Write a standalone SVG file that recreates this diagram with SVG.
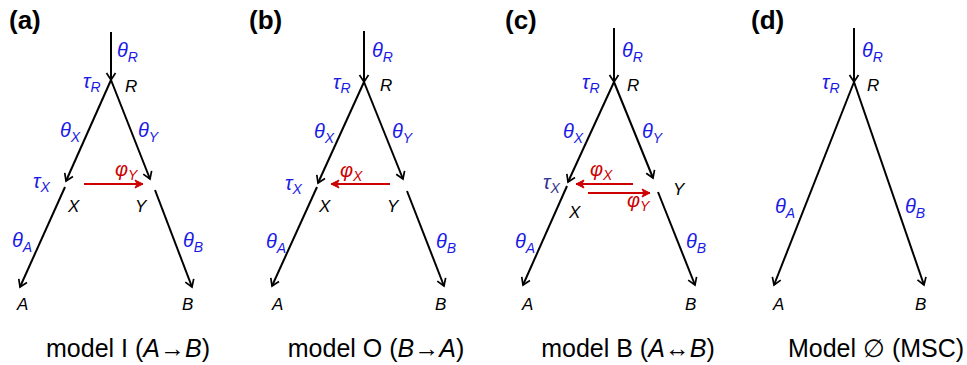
<svg xmlns="http://www.w3.org/2000/svg" width="967" height="365" viewBox="0 0 967 365">
<defs>
<marker id="ah" viewBox="-9 -6 11 12" refX="0" refY="0" markerWidth="11" markerHeight="12" orient="auto" markerUnits="userSpaceOnUse">
<path d="M-7,-4.5 L0,0 L-7,4.5" fill="none" stroke="#000" stroke-width="1.7" stroke-linejoin="miter"/>
</marker>
<marker id="ahr" viewBox="-10 -6 12 12" refX="0" refY="0" markerWidth="12" markerHeight="12" orient="auto" markerUnits="userSpaceOnUse">
<path d="M-8,-4 L0,0 L-8,4 L-6,0 Z" fill="#cc0000" stroke="#cc0000" stroke-width="1"/>
</marker>
</defs>
<style>
.br{stroke:#000;stroke-width:2;fill:none;marker-end:url(#ah)}
.mg{stroke:#cc0000;stroke-width:2;fill:none;marker-end:url(#ahr)}
.g{font-family:"Liberation Sans",Arial,sans-serif;font-style:italic;font-size:20px;fill:#1a1ae6}
.gr{font-family:"Liberation Sans",Arial,sans-serif;font-style:italic;font-size:20px;fill:#cc0000}
.gn{font-family:"Liberation Sans",Arial,sans-serif;font-style:italic;font-size:20px;fill:#33338a}
.sub{font-size:14px}
.n{font-family:"Liberation Sans",Arial,sans-serif;font-style:italic;font-size:17px;fill:#000}
.cap{font-family:"Liberation Sans",Arial,sans-serif;font-size:25px;fill:#000;text-anchor:middle}
.pl{font-family:"Liberation Sans",Arial,sans-serif;font-weight:bold;font-size:26px;fill:#000}
</style>

<!-- Panel (a) -->
<g id="panel-a">
<text class="pl" x="9" y="29">(a)</text>
<g id="a-connectors">
<line class="br" x1="111" y1="32" x2="111" y2="80"/>
<line class="br" x1="111" y1="80" x2="66" y2="181"/>
<line class="br" x1="111" y1="80" x2="150" y2="179"/>
<line class="br" x1="65" y1="187" x2="20" y2="287"/>
<line class="br" x1="155" y1="190" x2="192" y2="287"/>
<line class="mg" x1="84" y1="184" x2="143" y2="184"/>
</g>
<g id="a-R"><text class="n" x="125" y="92">R</text><text class="g" x="83" y="88">τ<tspan class="sub" dy="4">R</tspan></text></g>
<text class="g" x="117" y="57">θ<tspan class="sub" dy="5">R</tspan></text>
<text class="g" x="60" y="137">θ<tspan class="sub" dy="5">X</tspan></text>
<text class="g" x="138" y="137">θ<tspan class="sub" dy="5">Y</tspan></text>
<text class="gr" x="115" y="176">φ<tspan class="sub" dy="4">Y</tspan></text>
<g id="a-X"><text class="g" x="33" y="188">τ<tspan class="sub" dy="4">X</tspan></text><text class="n" x="68" y="212">X</text></g>
<g id="a-Y"><text class="n" x="135" y="212">Y</text></g>
<text class="g" x="12" y="247">θ<tspan class="sub" dy="5">A</tspan></text>
<text class="g" x="183" y="247">θ<tspan class="sub" dy="5">B</tspan></text>
<g id="a-A"><text class="n" x="17" y="310">A</text></g>
<g id="a-B"><text class="n" x="182" y="310">B</text></g>
<text class="cap" x="128" y="357">model I (<tspan font-style="italic">A</tspan>→<tspan font-style="italic">B</tspan>)</text>
</g>

<!-- Panel (b) -->
<g id="panel-b">
<text class="pl" x="249" y="29">(b)</text>
<g id="b-connectors">
<line class="br" x1="364" y1="31" x2="364" y2="82"/>
<line class="br" x1="364" y1="82" x2="318" y2="183"/>
<line class="br" x1="364" y1="82" x2="403" y2="179"/>
<line class="br" x1="317" y1="187" x2="272" y2="286"/>
<line class="br" x1="407" y1="191" x2="444" y2="286"/>
<line class="mg" x1="390" y1="184" x2="331" y2="184"/>
</g>
<g id="b-R"><text class="n" x="380" y="91">R</text><text class="g" x="333" y="89">τ<tspan class="sub" dy="4">R</tspan></text></g>
<text class="g" x="372" y="57">θ<tspan class="sub" dy="5">R</tspan></text>
<text class="g" x="314" y="138">θ<tspan class="sub" dy="5">X</tspan></text>
<text class="g" x="392" y="138">θ<tspan class="sub" dy="5">Y</tspan></text>
<text class="gr" x="340" y="177">φ<tspan class="sub" dy="4">X</tspan></text>
<g id="b-X"><text class="g" x="285" y="190">τ<tspan class="sub" dy="4">X</tspan></text><text class="n" x="319" y="212">X</text></g>
<g id="b-Y"><text class="n" x="387" y="212">Y</text></g>
<text class="g" x="266" y="248">θ<tspan class="sub" dy="5">A</tspan></text>
<text class="g" x="436" y="248">θ<tspan class="sub" dy="5">B</tspan></text>
<g id="b-A"><text class="n" x="272" y="310">A</text></g>
<g id="b-B"><text class="n" x="435" y="310">B</text></g>
<text class="cap" x="376" y="357">model O (<tspan font-style="italic">B</tspan>→<tspan font-style="italic">A</tspan>)</text>
</g>

<!-- Panel (c) -->
<g id="panel-c">
<text class="pl" x="505" y="29">(c)</text>
<g id="c-connectors">
<line class="br" x1="614" y1="28" x2="614" y2="82"/>
<line class="br" x1="614" y1="82" x2="568" y2="182"/>
<line class="br" x1="614" y1="82" x2="653" y2="178"/>
<line class="br" x1="567" y1="186" x2="523" y2="285"/>
<line class="br" x1="658" y1="192" x2="695" y2="285"/>
<line class="mg" x1="633" y1="184" x2="576" y2="184"/>
<line class="mg" x1="588" y1="193" x2="650" y2="193"/>
</g>
<g id="c-R"><text class="n" x="627" y="91">R</text><text class="g" x="582" y="89">τ<tspan class="sub" dy="4">R</tspan></text></g>
<text class="g" x="622" y="57">θ<tspan class="sub" dy="5">R</tspan></text>
<text class="g" x="563" y="138">θ<tspan class="sub" dy="5">X</tspan></text>
<text class="g" x="642" y="138">θ<tspan class="sub" dy="5">Y</tspan></text>
<text class="gr" x="590" y="176">φ<tspan class="sub" dy="4">X</tspan></text>
<text class="gr" x="627" y="207">φ<tspan class="sub" dy="4">Y</tspan></text>
<g id="c-X"><text class="gn" x="543" y="189">τ<tspan class="sub" dy="4">X</tspan></text><text class="n" x="569" y="218">X</text></g>
<g id="c-Y"><text class="n" x="673" y="195">Y</text></g>
<text class="g" x="515" y="248">θ<tspan class="sub" dy="5">A</tspan></text>
<text class="g" x="686" y="248">θ<tspan class="sub" dy="5">B</tspan></text>
<g id="c-A"><text class="n" x="522" y="310">A</text></g>
<g id="c-B"><text class="n" x="685" y="310">B</text></g>
<text class="cap" x="628" y="357">model B (<tspan font-style="italic">A</tspan>↔<tspan font-style="italic">B</tspan>)</text>
</g>

<!-- Panel (d) -->
<g id="panel-d">
<text class="pl" x="751" y="29">(d)</text>
<g id="d-connectors">
<line class="br" x1="854" y1="28" x2="854" y2="82"/>
<line class="br" x1="854" y1="82" x2="774" y2="285"/>
<line class="br" x1="854" y1="82" x2="924" y2="285"/>
</g>
<g id="d-R"><text class="n" x="867" y="91">R</text><text class="g" x="822" y="89">τ<tspan class="sub" dy="4">R</tspan></text></g>
<text class="g" x="862" y="57">θ<tspan class="sub" dy="5">R</tspan></text>
<text class="g" x="775" y="213">θ<tspan class="sub" dy="5">A</tspan></text>
<text class="g" x="905" y="213">θ<tspan class="sub" dy="5">B</tspan></text>
<g id="d-A"><text class="n" x="773" y="310">A</text></g>
<g id="d-B"><text class="n" x="915" y="310">B</text></g>
<text class="cap" x="876" y="357">Model ∅ (MSC)</text>
</g>
</svg>
